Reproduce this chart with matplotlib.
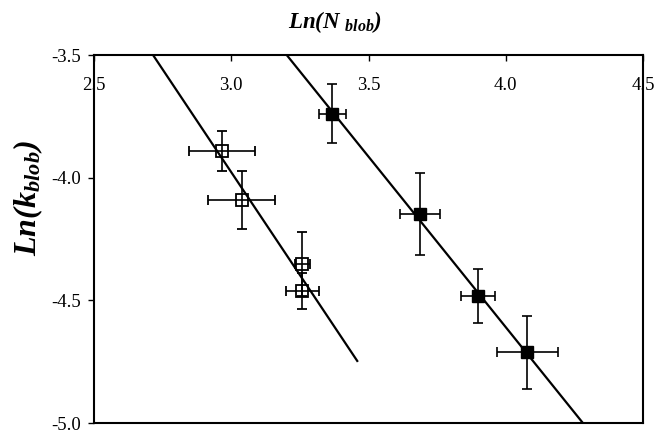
import matplotlib
matplotlib.use("Agg")
import matplotlib.pyplot as plt
import numpy as np

plt.rcParams['font.family'] = ['Liberation Serif', 'DejaVu Serif']
plt.rcParams['mathtext.fontset'] = 'custom'
plt.rcParams['mathtext.rm'] = 'Liberation Serif'
plt.rcParams['mathtext.it'] = 'Liberation Serif:italic'
plt.rcParams['mathtext.bf'] = 'Liberation Serif:bold'
plt.rcParams['mathtext.bfit'] = 'Liberation Serif:italic:bold'

# Open squares series
open_x = [2.967, 3.038, 3.259, 3.259]
open_y = [-3.891, -4.091, -4.352, -4.461]
open_xerr = [0.120, 0.121, 0.027, 0.059]
open_yerr = [0.080, 0.120, 0.132, 0.073]

# Filled squares series
fill_x = [3.368, 3.688, 3.899, 4.079]
fill_y = [-3.739, -4.149, -4.482, -4.712]
fill_xerr = [0.050, 0.072, 0.061, 0.110]
fill_yerr = [0.119, 0.168, 0.109, 0.150]

# Fit lines (endpoints)
fit1_x = [2.715, 3.459]
fit1_y = [-3.50, -4.747]
fit2_x = [3.202, 4.281]
fit2_y = [-3.50, -5.00]

xticks = [2.5, 3.0, 3.5, 4.0, 4.5]
yticks = [-3.5, -4.0, -4.5, -5.0]

fig = plt.figure(figsize=(6.54, 4.32), dpi=100)
ax = fig.add_axes([94/654, 1-423/432, (643-94)/654, (423-55)/432])

ax.plot(fit1_x, fit1_y, color='black', lw=1.6, zorder=2)
ax.plot(fit2_x, fit2_y, color='black', lw=1.6, zorder=2)

ax.errorbar(open_x, open_y, xerr=open_xerr, yerr=open_yerr, fmt='s',
            mfc='none', mec='black', mew=1.3, ms=8.5, ecolor='black',
            elinewidth=1.2, capsize=3.5, capthick=1.2, zorder=3)
ax.errorbar(fill_x, fill_y, xerr=fill_xerr, yerr=fill_yerr, fmt='s',
            mfc='black', mec='black', ms=8.5, ecolor='black',
            elinewidth=1.2, capsize=3.5, capthick=1.2, zorder=3)

ax.set_xlim(2.5, 4.5)
ax.set_ylim(-5.0, -3.5)
ax.set_xticks(xticks)
ax.set_xticklabels([f'{v:.1f}' for v in xticks])
ax.set_yticks(yticks)
ax.set_yticklabels([f'{v:.1f}' for v in yticks])

ax.xaxis.tick_top()
ax.tick_params(axis='x', direction='in', length=4, width=1.0, pad=-28,
               labelsize=13.5)
ax.tick_params(axis='y', direction='out', length=4.5, width=1.0, pad=5,
               labelsize=13.5)
for s in ax.spines.values():
    s.set_linewidth(1.5)

fig.text(335/654, 1-22/432, r'$\mathbfit{Ln(N}\ _{\mathbfit{blob}}\mathbfit{)}$',
         ha='center', va='center', fontsize=16.5)
fig.text(28/654, 1-198/432, r'$\mathbfit{Ln(k}_{\mathbfit{blob}}\mathbfit{)}$',
         ha='center', va='center', fontsize=23, rotation=90)

fig.savefig('out.png', dpi=100)
